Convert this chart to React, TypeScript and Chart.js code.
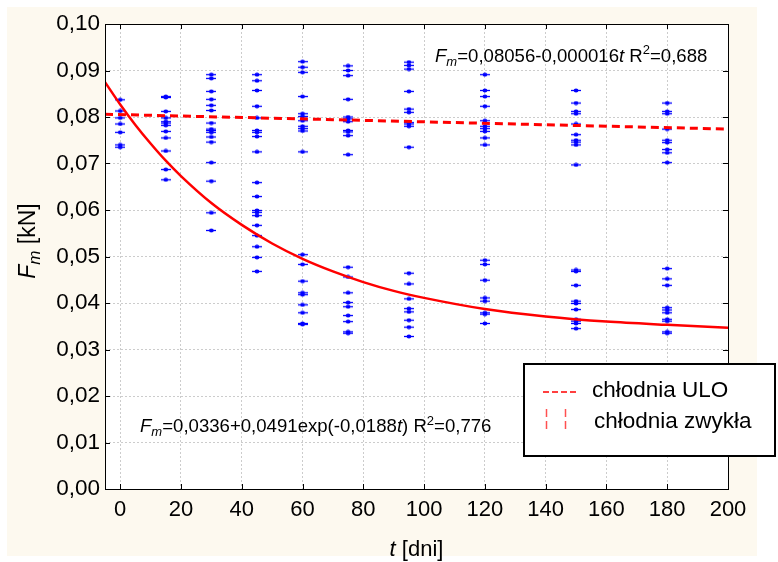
import React, { useEffect, useRef } from "react";
import { Chart, registerables } from "chart.js";

Chart.register(...registerables);

const FAMILY = '"Liberation Sans", Arial, sans-serif';

// measured points: storage time t [days] and Fm [kN]
const days = [0, 15, 30, 45, 60, 75, 95, 120, 150, 180];
const d0 = [0.0837, 0.0813, 0.0798, 0.0785, 0.0767, 0.074, 0.0735];
const d15 = [0.0844, 0.0842, 0.0812, 0.0798, 0.079, 0.0787, 0.0782, 0.0769, 0.0755, 0.0727, 0.0687, 0.0665];
const d30 = [0.0891, 0.0883, 0.0855, 0.0838, 0.0825, 0.0814, 0.0787, 0.0774, 0.0771, 0.0767, 0.0757, 0.0746, 0.0702, 0.0662, 0.0594, 0.0556];
const d45 = [0.0891, 0.0878, 0.0857, 0.0823, 0.0798, 0.0771, 0.0767, 0.0758, 0.0725, 0.0659, 0.0629, 0.0599, 0.0595, 0.0588, 0.0567, 0.0545, 0.0521, 0.0498, 0.0468];
const d60 = [0.0919, 0.0907, 0.0896, 0.0844, 0.0807, 0.0801, 0.0792, 0.078, 0.0775, 0.077, 0.0725, 0.0504, 0.0483, 0.0447, 0.0422, 0.0418, 0.0396, 0.0379, 0.0356, 0.0354];
const d75 = [0.091, 0.09, 0.0889, 0.0838, 0.08, 0.0796, 0.079, 0.0771, 0.0768, 0.076, 0.0719, 0.0477, 0.0456, 0.0422, 0.0401, 0.0392, 0.0373, 0.036, 0.0338, 0.0335];
const d95 = [0.0918, 0.0911, 0.0903, 0.0855, 0.0817, 0.081, 0.0788, 0.0785, 0.078, 0.0735, 0.0464, 0.0441, 0.0409, 0.0388, 0.0381, 0.0363, 0.0348, 0.0328];
const d120 = [0.0891, 0.0857, 0.0844, 0.0823, 0.0792, 0.078, 0.0775, 0.0769, 0.0755, 0.074, 0.0492, 0.0483, 0.0449, 0.0411, 0.0404, 0.0379, 0.0376, 0.0356];
const d150 = [0.0857, 0.083, 0.0812, 0.0807, 0.0785, 0.0762, 0.075, 0.0746, 0.074, 0.0697, 0.0471, 0.0468, 0.0438, 0.0404, 0.0399, 0.0386, 0.0365, 0.0361, 0.0356, 0.0345];
const d180 = [0.083, 0.0812, 0.0807, 0.0774, 0.075, 0.0745, 0.073, 0.0723, 0.0702, 0.0474, 0.0452, 0.0438, 0.039, 0.0385, 0.0379, 0.0365, 0.0361, 0.0338, 0.0335];
const columns = [d0, d15, d30, d45, d60, d75, d95, d120, d150, d180];

// fitted curve "chłodnia zwykła"
const fitT = [-5, 0, 5, 10, 15, 20, 30, 40, 50, 60, 70, 80, 90, 100, 120, 140, 160, 180, 200];
const fitZwykla = [0.0875, 0.0827, 0.0783, 0.0743, 0.0706, 0.0673, 0.0615, 0.0568, 0.0528, 0.0495, 0.0468, 0.0445, 0.0426, 0.0411, 0.0387, 0.0371, 0.036, 0.0353, 0.0347];

// fitted line "chłodnia ULO"
const uloT = [-5, 200];
const uloF = [0.0806, 0.0774];

const legendLabels = ["chłodnia ULO", "chłodnia zwykła"];

type Seg = { t: string; italic?: boolean; sub?: boolean; sup?: boolean };

function drawRich(ctx: CanvasRenderingContext2D, segs: Seg[], x: number, y: number, size: number, align: "left" | "center" = "left") {
  const fontFor = (s: Seg) => `${s.italic ? "italic " : ""}${s.sub || s.sup ? Math.round(size * 0.72) : size}px ${FAMILY}`;
  let w = 0;
  for (const s of segs) {
    ctx.font = fontFor(s);
    w += ctx.measureText(s.t).width;
  }
  let cx = align === "center" ? x - w / 2 : x;
  ctx.textAlign = "left";
  ctx.textBaseline = "alphabetic";
  for (const s of segs) {
    ctx.font = fontFor(s);
    const dy = s.sub ? size * 0.22 : s.sup ? -size * 0.4 : 0;
    ctx.fillText(s.t, cx, y + dy);
    cx += ctx.measureText(s.t).width;
  }
}

function makeMarker(): HTMLCanvasElement {
  const c = document.createElement("canvas");
  c.width = 10;
  c.height = 5;
  const g = c.getContext("2d")!;
  g.strokeStyle = "#0000ff";
  g.fillStyle = "#0000ff";
  g.lineWidth = 1.3;
  g.beginPath();
  g.moveTo(0, 2.5);
  g.lineTo(10, 2.5);
  g.stroke();
  g.beginPath();
  g.ellipse(5, 2.5, 2.4, 2.0, 0, 0, Math.PI * 2);
  g.fill();
  return c;
}

const decorPlugin = {
  id: "decor",
  beforeDraw(chart: any) {
    const ctx = chart.ctx as CanvasRenderingContext2D;
    const a = chart.chartArea;
    ctx.save();
    ctx.fillStyle = "#ffffff";
    ctx.fillRect(0, 0, chart.width, chart.height);
    ctx.fillStyle = "#fdf9ef";
    ctx.fillRect(7, 7, 750, 549);
    ctx.fillStyle = "#ffffff";
    ctx.fillRect(a.left, a.top, a.right - a.left, a.bottom - a.top);
    ctx.restore();
  },
  afterDraw(chart: any) {
    const ctx = chart.ctx as CanvasRenderingContext2D;
    const a = chart.chartArea;
    const xs = chart.scales.x;
    const ys = chart.scales.y;
    ctx.save();
    // border
    ctx.strokeStyle = "#000000";
    ctx.lineWidth = 1;
    ctx.setLineDash([]);
    ctx.strokeRect(Math.round(a.left) + 0.5, Math.round(a.top) + 0.5, Math.round(a.right - a.left), Math.round(a.bottom - a.top));
    // inward ticks
    ctx.beginPath();
    for (const t of xs.ticks) {
      const px = Math.round(xs.getPixelForValue(t.value)) + 0.5;
      ctx.moveTo(px, a.bottom);
      ctx.lineTo(px, a.bottom - 5);
      ctx.moveTo(px, a.top);
      ctx.lineTo(px, a.top + 5);
    }
    for (const t of ys.ticks) {
      const py = Math.round(ys.getPixelForValue(t.value)) + 0.5;
      ctx.moveTo(a.left, py);
      ctx.lineTo(a.left + 5, py);
      ctx.moveTo(a.right, py);
      ctx.lineTo(a.right - 5, py);
    }
    ctx.stroke();

    ctx.fillStyle = "#000000";
    // regression annotations
    drawRich(ctx, [
      { t: "F", italic: true }, { t: "m", italic: true, sub: true },
      { t: "=0,08056-0,000016" }, { t: "t", italic: true }, { t: " R" }, { t: "2", sup: true }, { t: "=0,688" },
    ], 435, 61.5, 18.6);
    drawRich(ctx, [
      { t: "F", italic: true }, { t: "m", italic: true, sub: true },
      { t: "=0,0336+0,0491exp(-0,0188" }, { t: "t", italic: true }, { t: ") R" }, { t: "2", sup: true }, { t: "=0,776" },
    ], 140, 432, 18.6);

    // axis titles
    drawRich(ctx, [{ t: "t", italic: true }, { t: " [dni]" }], (a.left + a.right) / 2, 556, 22, "center");
    ctx.save();
    ctx.translate(35, 241);
    ctx.rotate(-Math.PI / 2);
    drawRich(ctx, [{ t: "F", italic: true }, { t: "m", italic: true, sub: true }, { t: " [kN]" }], 0, 0, 23, "center");
    ctx.restore();

    // legend box
    ctx.fillStyle = "#ffffff";
    ctx.fillRect(523, 363, 253, 94);
    ctx.strokeStyle = "#000000";
    ctx.lineWidth = 2;
    ctx.strokeRect(524, 364, 251, 92);
    ctx.strokeStyle = "#ff0000";
    ctx.lineWidth = 1.5;
    ctx.setLineDash([6, 3]);
    ctx.beginPath();
    ctx.moveTo(543, 392);
    ctx.lineTo(578, 392);
    ctx.stroke();
    ctx.strokeStyle = "#ff5050";
    ctx.setLineDash([8, 4]);
    ctx.beginPath();
    ctx.moveTo(546.5, 409);
    ctx.lineTo(546.5, 433);
    ctx.moveTo(565.5, 409);
    ctx.lineTo(565.5, 433);
    ctx.stroke();
    ctx.setLineDash([]);
    ctx.fillStyle = "#000000";
    ctx.font = `22.5px ${FAMILY}`;
    ctx.textAlign = "left";
    ctx.textBaseline = "alphabetic";
    ctx.fillText(legendLabels[0], 592, 397);
    ctx.fillText(legendLabels[1], 594, 428);
    ctx.restore();
  },
};

export default function App() {
  const ref = useRef<HTMLCanvasElement | null>(null);
  useEffect(() => {
    if (!ref.current) return;
    const marker = makeMarker();
    const pts: { x: number; y: number }[] = [];
    days.forEach((d, i) => columns[i].forEach((v) => pts.push({ x: d, y: v })));
    const chart = new Chart(ref.current, {
      type: "scatter",
      data: {
        datasets: [
          {
            label: legendLabels[0],
            type: "line",
            data: uloT.map((t, i) => ({ x: t, y: uloF[i] })),
            borderColor: "#ff0000",
            borderWidth: 3,
            borderDash: [8, 5],
            pointRadius: 0,
            fill: false,
          } as any,
          {
            label: legendLabels[1],
            type: "line",
            data: fitT.map((t, i) => ({ x: t, y: fitZwykla[i] })),
            borderColor: "#ff0000",
            borderWidth: 2.5,
            pointRadius: 0,
            cubicInterpolationMode: "monotone",
            fill: false,
          } as any,
          {
            label: "pomiary",
            data: pts,
            pointStyle: marker as any,
            pointRadius: 5,
            backgroundColor: "#0000ff",
            borderColor: "#0000ff",
          },
        ],
      },
      options: {
        animation: false,
        responsive: false,
        events: [],
        layout: { padding: { top: 24, right: 50, left: 0, bottom: 0 } },
        plugins: { legend: { display: false }, tooltip: { enabled: false }, title: { display: false } },
        scales: {
          x: {
            type: "linear",
            min: -5,
            max: 200,
            afterFit: (s: any) => { s.height = 73; },
            afterBuildTicks: (s: any) => { s.ticks = s.ticks.filter((t: any) => t.value >= 0); },
            ticks: { stepSize: 20, includeBounds: false, padding: 8, color: "#000000", font: { family: FAMILY, size: 22 } },
            grid: { color: "#cccccc", drawTicks: false, lineWidth: 1 },
            border: { display: false, dash: [2, 2] },
          },
          y: {
            type: "linear",
            min: 0,
            max: 0.1,
            afterFit: (s: any) => { s.width = 105; },
            ticks: {
              stepSize: 0.01,
              padding: 5,
              color: "#000000",
              font: { family: FAMILY, size: 22.5 },
              callback: (v: any) => Number(v).toFixed(2).replace(".", ","),
            },
            grid: { color: "#cccccc", drawTicks: false, lineWidth: 1 },
            border: { display: false, dash: [2, 2] },
          },
        },
      },
      plugins: [decorPlugin],
    });
    return () => chart.destroy();
  }, []);
  return (
    <div style={{ position: "fixed", left: 0, top: 0, width: 778, height: 562 }}>
      <canvas ref={ref} width={778} height={562} style={{ display: "block" }} />
    </div>
  );
}
